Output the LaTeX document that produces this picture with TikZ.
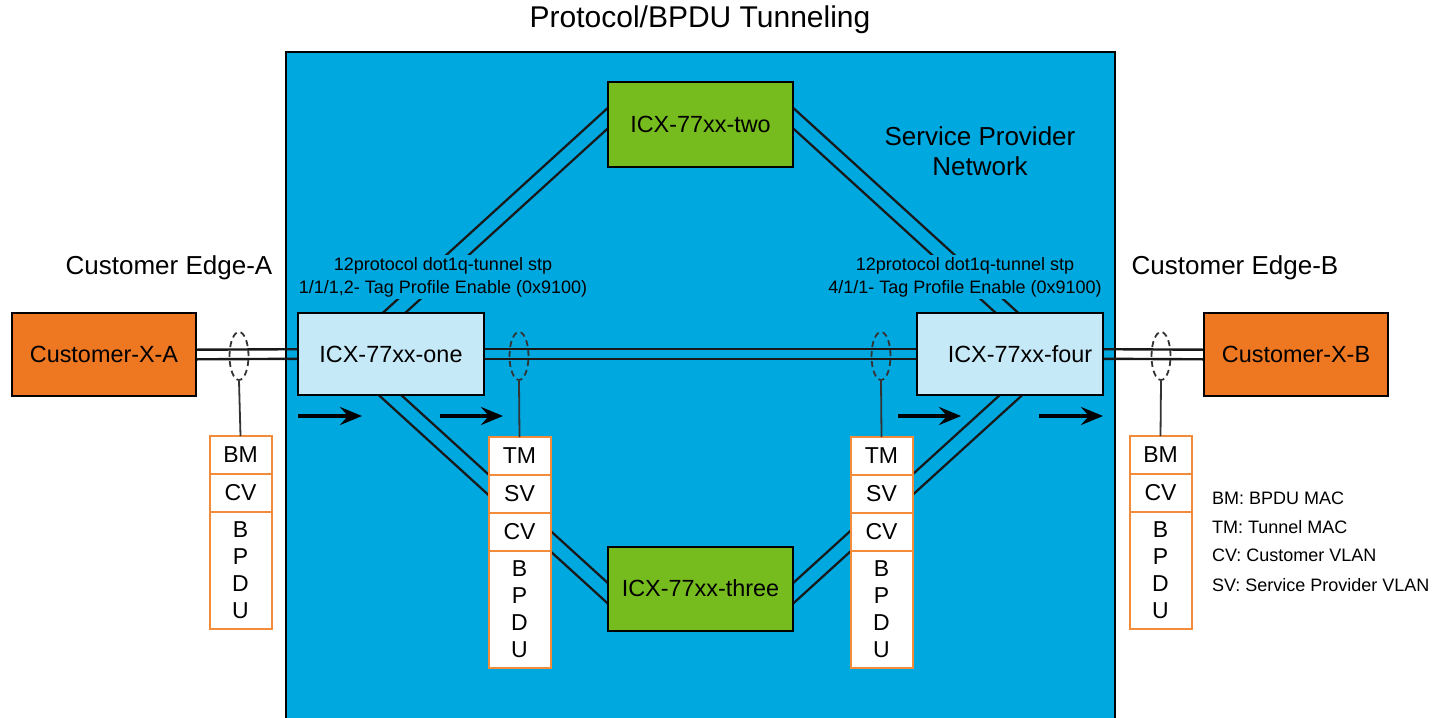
\documentclass[tikz,border=0pt]{standalone}
\usepackage{fontspec}
\setmainfont{Liberation Sans}
\usepackage{xcolor}
\usepackage{tikz}
\usetikzlibrary{shapes.geometric,arrows.meta,positioning}
\definecolor{SPblue}{HTML}{00A8E0}
\definecolor{CEorange}{HTML}{EE7722}
\definecolor{ICXgreen}{HTML}{77BC1F}
\definecolor{ICXlight}{HTML}{C6E9F8}
\definecolor{HDRorange}{HTML}{F28C3A}
\pgfdeclarelayer{back}
\pgfdeclarelayer{links}
\pgfsetlayers{back,links,main}
\tikzset{
  cebox/.style={draw, line width=1pt, fill=CEorange, minimum width=92pt,
    minimum height=41.5pt, font=\fontsize{11.7}{14}\selectfont},
  icxedge/.style={cebox, fill=ICXlight, minimum width=93pt, minimum height=41pt},
  icxcore/.style={cebox, fill=ICXgreen, minimum width=92.5pt, minimum height=42pt},
  hdr/.style={draw=HDRorange, line width=1pt, fill=white, outer sep=0pt,
    inner sep=0pt, minimum width=31pt, minimum height=19pt,
    font=\fontsize{11.5}{13.5}\selectfont},
  bpdu/.style={hdr, minimum height=58.5pt, align=center},
  tap/.style={ellipse, draw=black!80, dash pattern=on 3pt off 2pt,
    line width=0.9pt, minimum width=9.5pt, minimum height=24pt, inner sep=0pt},
  tapline/.style={black!80, line width=0.9pt},
  link/.style={line width=1.2pt, black!90},
  trunk/.style={link, double=SPblue, double distance=6.3pt,
    shorten <=-8pt, shorten >=-8pt},
  flow/.style={line width=2.2pt, -{Stealth[length=11pt,width=9pt,inset=4pt]}},
  cfg/.style={fill=SPblue, inner sep=1pt, align=center,
    font=\fontsize{9}{11.5}\selectfont},
}
\begin{document}
\begin{tikzpicture}[x=0.5pt, y=-0.5pt]
  \useasboundingbox (0,0) rectangle (1444,717);
  \begin{pgfonlayer}{back}
    \draw[fill=SPblue, line width=1.3pt] (286,52) rectangle (1115,740);
  \end{pgfonlayer}

  % title and area labels
  \node[font=\fontsize{15}{18}\selectfont] (title) at (700,20) {Protocol/BPDU Tunneling};
  \node[font=\fontsize{13}{15}\selectfont, align=center] (spnet) at (980,151)
    {Service Provider\\Network};
  \node[font=\fontsize{13}{15}\selectfont] (edgeA) at (169,268) {Customer Edge-A};
  \node[font=\fontsize{13}{15}\selectfont] (edgeB) at (1235,268) {Customer Edge-B};

  % devices
  \node[cebox] (cxa) at (104,354.5) {Customer-X-A};
  \node[cebox] (cxb) at (1296,354.5) {Customer-X-B};
  \node[icxedge] (one) at (391,354) {ICX-77xx-one};
  \node[icxedge] (four) at (1010,354) {\hspace{10pt}ICX-77xx-four};
  \node[icxcore] (two) at (700.5,124.5) {ICX-77xx-two};
  \node[icxcore] (three) at (700.5,588.5) {ICX-77xx-three};

  % links
  \begin{pgfonlayer}{links}
    \foreach \dy in {2.4pt,-2.4pt} {
      \draw[link] ([yshift=\dy]cxa.east) -- ([yshift=\dy]one.west);
      \draw[link] ([yshift=\dy]one.east) -- ([yshift=\dy]four.west);
      \draw[link] ([yshift=\dy]four.east) -- ([yshift=\dy]cxb.west);
    }
    \draw[trunk] ([xshift=2pt]one.north) -- ([yshift=2.8pt]two.west);
    \draw[trunk] ([yshift=2.8pt]two.east) -- ([xshift=-2pt]four.north);
    \draw[trunk] (one.south) -- ([yshift=-2pt]three.west);
    \draw[trunk] ([yshift=-2pt]three.east) -- (four.south);
  \end{pgfonlayer}

  \node[cfg] (cfgone) at (443,277)
    {12protocol dot1q-tunnel stp\\1/1/1,2- Tag Profile Enable (0x9100)};
  \node[cfg] (cfgfour) at (965,277)
    {12protocol dot1q-tunnel stp\\4/1/1- Tag Profile Enable (0x9100)};

  % frame taps
  \node[tap] (tapA) at (239,356) {};
  \node[tap] (tapL) at (519,356) {};
  \node[tap] (tapR) at (881,356) {};
  \node[tap] (tapB) at (1161,356) {};

  % frame headers
  \node[hdr] (bmA) at (240.5,455) {BM};
  \node[hdr, below=0pt of bmA] (cvA) {CV};
  \node[bpdu, below=0pt of cvA] (pduA) {B\\P\\D\\U};

  \node[hdr] (tmL) at (519.5,456) {TM};
  \node[hdr, below=0pt of tmL] (svL) {SV};
  \node[hdr, below=0pt of svL] (cvL) {CV};
  \node[bpdu, below=0pt of cvL] (pduL) {B\\P\\D\\U};

  \node[hdr] (tmR) at (881.5,456) {TM};
  \node[hdr, below=0pt of tmR] (svR) {SV};
  \node[hdr, below=0pt of svR] (cvR) {CV};
  \node[bpdu, below=0pt of cvR] (pduR) {B\\P\\D\\U};

  \node[hdr] (bmB) at (1160.5,455) {BM};
  \node[hdr, below=0pt of bmB] (cvB) {CV};
  \node[bpdu, below=0pt of cvB] (pduB) {B\\P\\D\\U};

  \draw[tapline] (tapA.south) -- (bmA.north);
  \draw[tapline] (tapL.south) -- (tmL.north);
  \draw[tapline] (tapR.south) -- (tmR.north);
  \draw[tapline] (tapB.south) -- (bmB.north);

  % direction of the frames
  \coordinate (f1s) at (298,416);  \coordinate (f1e) at (362,416);
  \coordinate (f2s) at (440,416);  \coordinate (f2e) at (503,416);
  \coordinate (f3s) at (898,416);  \coordinate (f3e) at (961,416);
  \coordinate (f4s) at (1039,416); \coordinate (f4e) at (1103,416);
  \draw[flow] (f1s) -- (f1e);
  \draw[flow] (f2s) -- (f2e);
  \draw[flow] (f3s) -- (f3e);
  \draw[flow] (f4s) -- (f4e);

  % legend
  \node[anchor=west, font=\fontsize{9}{11}\selectfont] (lgbm) at (1205,498) {BM: BPDU MAC};
  \node[anchor=west, font=\fontsize{9}{11}\selectfont] (lgtm) at (1205,527) {TM: Tunnel MAC};
  \node[anchor=west, font=\fontsize{9}{11}\selectfont] (lgcv) at (1205,555) {CV: Customer VLAN};
  \node[anchor=west, font=\fontsize{9}{11}\selectfont] (lgsv) at (1205,585) {SV: Service Provider VLAN};
\end{tikzpicture}
\end{document}
